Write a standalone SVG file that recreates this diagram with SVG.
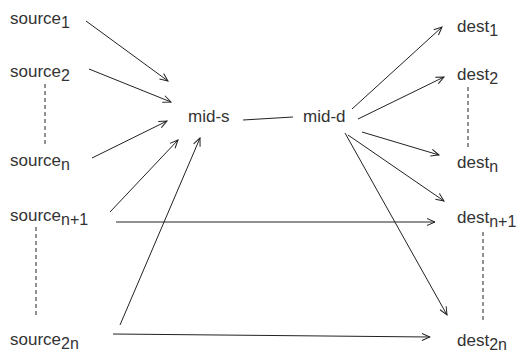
<svg xmlns="http://www.w3.org/2000/svg" width="522" height="354" viewBox="0 0 522 354">
<style>
text{font-family:"Liberation Sans",Arial,sans-serif;font-size:17px;fill:#333}
.s{font-size:16px}
.c line{stroke:#222;stroke-width:1;fill:none}
.a{marker-end:url(#ah)}
.d{stroke:#555;stroke-width:1;stroke-dasharray:4,3}
</style>
<defs>
<marker id="ah" markerWidth="10" markerHeight="10" refX="9" refY="5" orient="auto" markerUnits="userSpaceOnUse"><path d="M1,1.5 L9,5 L1,8.5" fill="none" stroke="#222" stroke-width="1"/></marker>
</defs>
<g id="source1"><text x="10" y="24">source<tspan class="s" dy="4">1</tspan></text></g>
<g id="source2"><text x="10" y="77">source<tspan class="s" dy="4">2</tspan></text></g>
<g id="sourcen"><text x="10" y="166">source<tspan class="s" dy="4">n</tspan></text></g>
<g id="sourcen1"><text x="10" y="221">source<tspan class="s" dy="4">n+1</tspan></text></g>
<g id="source2n"><text x="10" y="345">source<tspan class="s" dy="4">2n</tspan></text></g>
<g id="mids"><text x="188" y="122">mid-s</text></g>
<g id="midd"><text x="303" y="122">mid-d</text></g>
<g id="dest1"><text x="457" y="32">dest<tspan class="s" dy="4">1</tspan></text></g>
<g id="dest2"><text x="457" y="80">dest<tspan class="s" dy="4">2</tspan></text></g>
<g id="destn"><text x="457" y="168">dest<tspan class="s" dy="4">n</tspan></text></g>
<g id="destn1"><text x="457" y="223">dest<tspan class="s" dy="4">n+1</tspan></text></g>
<g id="dest2n"><text x="457" y="346">dest<tspan class="s" dy="4">2n</tspan></text></g>
<g id="connectors" class="c">
<line class="d" x1="45" y1="84" x2="45" y2="147"/>
<line class="d" x1="36" y1="227" x2="36" y2="317"/>
<line class="d" x1="468" y1="87" x2="468" y2="147"/>
<line class="d" x1="483" y1="232" x2="483" y2="323"/>
<line class="a" x1="86" y1="21" x2="168" y2="81"/>
<line class="a" x1="89" y1="69" x2="171" y2="102"/>
<line class="a" x1="92" y1="158" x2="167" y2="121"/>
<line class="a" x1="110" y1="212" x2="178" y2="140"/>
<line class="a" x1="120" y1="325" x2="200" y2="138"/>
<line x1="243" y1="120" x2="293" y2="117"/>
<line class="a" x1="116" y1="222" x2="435" y2="222"/>
<line class="a" x1="113" y1="334" x2="430" y2="337"/>
<line class="a" x1="352" y1="109" x2="442" y2="27"/>
<line class="a" x1="358" y1="119" x2="444" y2="77"/>
<line class="a" x1="362" y1="132" x2="439" y2="155"/>
<line class="a" x1="348" y1="135" x2="444" y2="201"/>
<line class="a" x1="345" y1="133" x2="447" y2="315"/>
</g>
</svg>
